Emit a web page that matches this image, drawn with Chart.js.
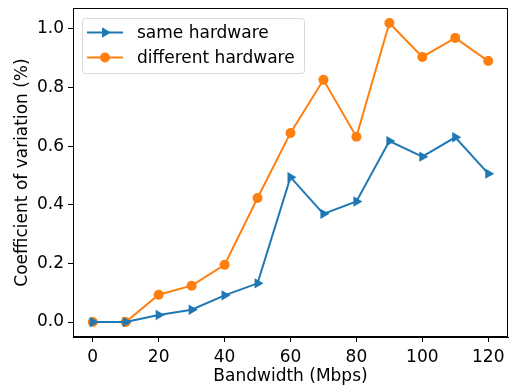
<!DOCTYPE html>
<html>
<head>
<meta charset="utf-8">
<script src="https://cdn.jsdelivr.net/npm/chart.js@4/dist/chart.umd.min.js"></script>
<style>
  html, body { margin: 0; padding: 0; background: #fff; overflow: hidden; }
  /* 4px wider than the window: Chart.js keeps a few px free on the right that matplotlib doesn't */
  #wrap { width: 514px; height: 387px; }
</style>
</head>
<body>
<div id="wrap"><canvas id="chart"></canvas></div>
<script>
// Coefficient of variation vs bandwidth.

const bandwidth = [0, 10, 20, 30, 40, 50, 60, 70, 80, 90, 100, 110, 120];
const sameHardware = [0.0, 0.0, 0.024, 0.042, 0.091, 0.132, 0.494, 0.369, 0.411, 0.617, 0.564, 0.630, 0.506];
const diffHardware = [0.0, 0.0, 0.093, 0.124, 0.195, 0.423, 0.645, 0.826, 0.632, 1.020, 0.904, 0.969, 0.890];
const xTicks = [0, 20, 40, 60, 80, 100, 120];
const yTicks = [0.0, 0.2, 0.4, 0.6, 0.8, 1.0];

const FONT = 'DejaVu Sans';
const FS = 17;
const BLUE = '#1f77b4';
const ORANGE = '#ff7f0e';

// matplotlib-style frame around the plot area
const framePlugin = {
  id: 'frame',
  afterDraw(chart) {
    const {ctx, chartArea: a} = chart;
    ctx.save();
    ctx.strokeStyle = '#000';
    ctx.lineWidth = 1;
    ctx.strokeRect(a.left + 0.5, a.top + 0.5, a.right - a.left - 1, a.bottom - a.top - 1);
    ctx.restore();
  }
};

// legend drawn inside the axes, upper left
const innerLegend = {
  id: 'innerLegend',
  afterDraw(chart) {
    const {ctx, chartArea: a} = chart;
    const x0 = a.left + 9, y0 = a.top + 10, w = 222, h = 55;
    ctx.save();
    ctx.fillStyle = 'rgba(255,255,255,0.8)';
    ctx.strokeStyle = '#d9d9d9';
    ctx.lineWidth = 1;
    ctx.beginPath();
    ctx.roundRect(x0 + 0.5, y0 + 0.5, w, h, 3);
    ctx.fill();
    ctx.stroke();
    chart.data.datasets.forEach((ds, i) => {
      const cy = y0 + 14.5 + i * 25;
      ctx.strokeStyle = ds.borderColor;
      ctx.lineWidth = ds.borderWidth;
      ctx.beginPath();
      ctx.moveTo(x0 + 5, cy);
      ctx.lineTo(x0 + 41, cy);
      ctx.stroke();
      ctx.fillStyle = ds.backgroundColor;
      Chart.helpers.drawPoint(ctx, {
        pointStyle: ds.pointStyle, rotation: ds.pointRotation || 0,
        radius: ds.pointRadius, borderWidth: 0
      }, x0 + 23, cy);
      ctx.fillStyle = '#000';
      ctx.font = `${FS}px "${FONT}"`;
      ctx.textBaseline = 'middle';
      ctx.fillText(ds.label, x0 + 55, cy + 1);
    });
    ctx.restore();
  }
};

new Chart(document.getElementById('chart'), {
  type: 'line',
  data: {
    datasets: [
      {
        label: 'same hardware',
        data: bandwidth.map((b, i) => ({x: b, y: sameHardware[i]})),
        borderColor: BLUE,
        backgroundColor: BLUE,
        borderWidth: 2,
        pointStyle: 'triangle',
        pointRotation: 90,
        pointRadius: 6,
        pointBorderWidth: 0,
        tension: 0
      },
      {
        label: 'different hardware',
        data: bandwidth.map((b, i) => ({x: b, y: diffHardware[i]})),
        borderColor: ORANGE,
        backgroundColor: ORANGE,
        borderWidth: 2,
        pointStyle: 'circle',
        pointRadius: 5,
        pointBorderWidth: 0,
        tension: 0
      }
    ]
  },
  options: {
    responsive: true,
    maintainAspectRatio: false,
    animation: false,
    devicePixelRatio: 1,
    layout: { padding: { top: 8, right: 1, left: 0, bottom: 0 } },
    plugins: {
      legend: { display: false },
      tooltip: { enabled: false }
    },
    scales: {
      x: {
        type: 'linear',
        min: -6,
        max: 126,
        afterBuildTicks: (axis) => { axis.ticks = xTicks.map(v => ({value: v})); },
        afterFit: (axis) => { axis.height = 50; axis.paddingLeft = 0; axis.paddingRight = 0; },
        ticks: { color: '#000', font: {family: FONT, size: FS}, padding: 5, maxRotation: 0 },
        grid: { drawOnChartArea: false, drawTicks: true, tickLength: 5, color: '#000' },
        border: { display: true, color: '#000' },
        title: { display: true, text: 'Bandwidth (Mbps)', color: '#000', font: {family: FONT, size: FS}, padding: {top: -2, bottom: 0} }
      },
      y: {
        type: 'linear',
        min: -0.051,
        max: 1.071,
        afterBuildTicks: (axis) => { axis.ticks = yTicks.map(v => ({value: v})); },
        afterFit: (axis) => { axis.width = 73; axis.paddingTop = 0; axis.paddingBottom = 0; },
        ticks: { color: '#000', font: {family: FONT, size: FS}, padding: 4, callback: (v) => v.toFixed(1) },
        grid: { drawOnChartArea: false, drawTicks: true, tickLength: 5, color: '#000' },
        border: { display: true, color: '#000' },
        title: { display: true, text: 'Coefficient of variation (%)', color: '#000', font: {family: FONT, size: FS}, padding: {top: 12, bottom: 0} }
      }
    }
  },
  plugins: [framePlugin, innerLegend]
});
</script>
</body>
</html>
